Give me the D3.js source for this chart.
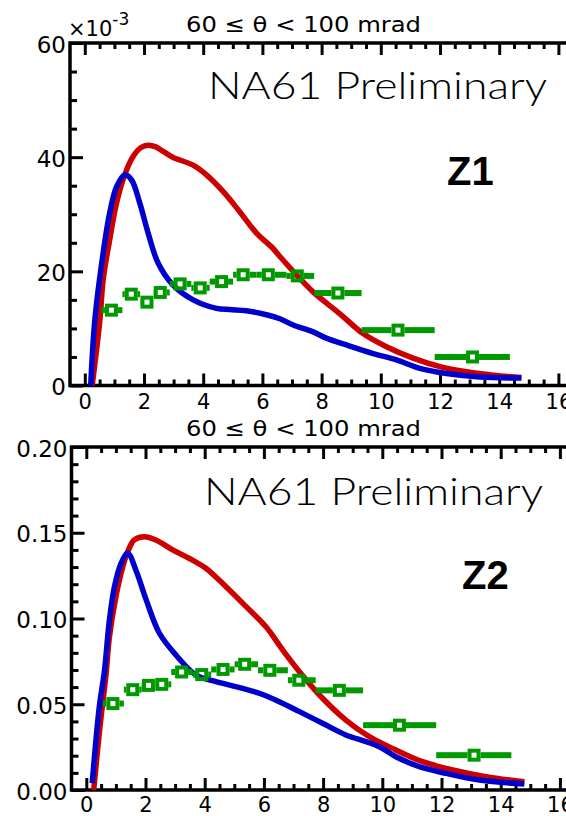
<!DOCTYPE html>
<html>
<head>
<meta charset="utf-8">
<script src="https://cdn.jsdelivr.net/npm/d3@7"></script>
<style>
  html, body { margin: 0; padding: 0; background: #fff; }
  svg { display: block; }
</style>
</head>
<body>
<svg id="chart" width="566" height="816"></svg>
<script>
// Momentum bins (GeV/c) shared by both panels
const binCenter = [0.9, 1.57, 2.1, 2.55, 3.22, 3.9, 4.62, 5.35, 6.2, 7.18, 8.55, 10.58, 13.1];
const binLow    = [0.56, 1.27, 1.87, 2.32, 2.87, 3.6, 4.22, 5.01, 5.8, 6.81, 7.75, 9.35, 11.82];
const binHigh   = [1.27, 1.87, 2.32, 2.87, 3.6, 4.22, 5.01, 5.8, 6.81, 7.75, 9.35, 11.82, 14.36];

// Z1 panel (values in units of 1e-3)
const z1Data = [13.2, 16.0, 14.6, 16.3, 17.8, 17.1, 18.2, 19.4, 19.4, 19.2, 16.2, 9.7, 5.0];
const z1Red = [[0.25,0],[0.51,11.5],[0.62,18.5],[0.84,25.5],[1.07,31.9],[1.35,36.9],[1.63,40.1],[1.9,41.7],
  [2.14,42.1],[2.4,41.8],[2.65,41.0],[3.0,39.9],[3.21,39.5],[3.66,38.6],[4.11,36.9],[4.67,34.0],[5.24,30.4],
  [5.8,26.7],[6.36,24.0],[6.59,22.6],[7.15,19.4],[7.71,16.4],[8.61,12.6],[9.4,9.1],[10.19,6.8],[11.09,4.8],
  [12.0,3.3],[12.9,2.4],[13.8,1.8],[14.75,1.4]];
const z1Blue = [[0.2,0],[0.34,11.5],[0.62,23.2],[0.84,30.2],[1.07,34.8],[1.35,36.9],[1.58,36.0],[1.86,31.9],
  [2.14,26.7],[2.48,21.4],[2.98,17.6],[3.66,15.0],[4.45,13.5],[4.9,13.3],[5.46,13.1],[6.14,12.4],[6.59,11.7],
  [7.04,10.6],[7.71,9.4],[8.16,8.3],[8.84,7.1],[9.74,5.6],[10.53,4.5],[11.32,3.0],[12.22,2.1],[13.34,1.5],[14.75,1.3]];

// Z2 panel
const z2Data = [0.0504, 0.0585, 0.061, 0.0616, 0.0688, 0.0673, 0.0703, 0.0733, 0.0698, 0.064, 0.0581, 0.0378, 0.0203];
const z2Red = [[0.25,0],[0.45,0.035],[0.67,0.068],[0.78,0.089],[1.0,0.1127],[1.23,0.130],[1.4,0.139],[1.62,0.1458],
  [1.96,0.1477],[2.35,0.1458],[2.92,0.140],[3.59,0.134],[4.04,0.1293],[4.72,0.1185],[5.4,0.1069],[6.07,0.0952],
  [6.6,0.0825],[7.2,0.069],[7.98,0.0535],[8.77,0.0408],[9.56,0.0311],[10.46,0.0233],[11.36,0.0165],[12.38,0.0117],
  [13.5,0.0078],[14.8,0.0048]];
const z2Blue = [[0.2,0.004],[0.44,0.0486],[0.61,0.069],[0.78,0.099],[0.95,0.1185],[1.17,0.132],[1.4,0.138],[1.68,0.128],
  [2.02,0.111],[2.47,0.0914],[3.03,0.0787],[3.71,0.067],[4.38,0.0632],[5.28,0.0593],[5.84,0.0564],[6.52,0.0515],
  [7.2,0.0457],[7.98,0.0389],[8.77,0.0321],[9.45,0.0282],[9.9,0.0252],[10.46,0.0194],[11.25,0.0136],[12.15,0.0097],
  [13.28,0.0058],[14.8,0.0035]];

// Axis ticks and labels
const xTicks = [0, 2, 4, 6, 8, 10, 12, 14, 16];
const z1YTicks = [0, 20, 40, 60];
const z1YLabels = ["0", "20", "40", "60"];
const z2YTicks = [0, 0.05, 0.10, 0.15, 0.20];
const z2YLabels = ["0.00", "0.05", "0.10", "0.15", "0.20"];
const titleText = "60 \u2264 \u03b8 < 100 mrad";
const watermark = "NA61 Preliminary";

const RED = "#cc0000", BLUE = "#0000cc", GREEN = "#009a00";
const MARK = 9, MARK_W = 4;   // open square side and outline width
const svg = d3.select("#chart");

function drawPanel(cfg) {
  const x = d3.scaleLinear().domain([-0.5, 16.5]).range([cfg.left, cfg.left + 17 * 29.6]);
  const y = d3.scaleLinear().domain(cfg.yDomain).range([cfg.bottom, cfg.top]);
  const g = svg.append("g");

  const xMinor = d3.range(0, 16.51, 0.5).filter(v => v % 2 !== 0);
  const yMinor = d3.range(cfg.yDomain[0], cfg.yDomain[1] + cfg.minorStep / 2, cfg.minorStep)
    .filter(v => !cfg.yTicks.some(t => Math.abs(t - v) < cfg.minorStep / 10));

  function styleAxis(sel) {
    sel.select(".domain").remove();
    sel.selectAll(".tick line").attr("stroke", "#000").attr("stroke-width", 3);
    sel.selectAll("text").attr("fill", "#000");
  }

  // bottom axis: major with labels, minor without
  g.append("g").attr("transform", `translate(0,${cfg.bottom})`)
    .call(d3.axisBottom(x).tickValues(xTicks).tickSizeInner(-12).tickSizeOuter(0).tickPadding(cfg.xPad))
    .call(styleAxis)
    .selectAll("text").attr("font-family", "DejaVu Sans").attr("font-size", 21);
  g.append("g").attr("transform", `translate(0,${cfg.bottom})`)
    .call(d3.axisBottom(x).tickValues(xMinor).tickSizeInner(-6).tickSizeOuter(0).tickFormat(""))
    .call(styleAxis);
  // top edge ticks
  g.append("g").attr("transform", `translate(0,${cfg.top})`)
    .call(d3.axisTop(x).tickValues(xTicks).tickSizeInner(-12).tickSizeOuter(0).tickFormat(""))
    .call(styleAxis);
  g.append("g").attr("transform", `translate(0,${cfg.top})`)
    .call(d3.axisTop(x).tickValues(xMinor).tickSizeInner(-6).tickSizeOuter(0).tickFormat(""))
    .call(styleAxis);

  // left axis
  g.append("g").attr("transform", `translate(${cfg.left},0)`)
    .call(d3.axisLeft(y).tickValues(cfg.yTicks).tickSizeInner(-13).tickSizeOuter(0).tickPadding(4)
      .tickFormat((d, i) => cfg.yLabels[i]))
    .call(styleAxis)
    .selectAll("text").attr("font-family", "DejaVu Sans").attr("font-size", 23)
      .attr("dy", "0.40em");
  g.append("g").attr("transform", `translate(${cfg.left},0)`)
    .call(d3.axisLeft(y).tickValues(yMinor).tickSizeInner(-7).tickSizeOuter(0).tickFormat(""))
    .call(styleAxis);

  // frame lines
  const right = x.range()[1];
  g.append("path")
    .attr("d", `M${right},${cfg.top}H${cfg.left}V${cfg.bottom}H${right}`)
    .attr("fill", "none").attr("stroke", "#000").attr("stroke-width", 3.5);

  // title
  g.append("text").attr("x", 186).attr("y", cfg.top - 11.5)
    .attr("font-family", "DejaVu Sans").attr("font-size", 22)
    .attr("textLength", 235).attr("lengthAdjust", "spacingAndGlyphs")
    .text(titleText);

  if (cfg.exponent) {
    const t = g.append("text").attr("x", cfg.left - 2).attr("y", cfg.top - 7)
      .attr("font-family", "DejaVu Sans").attr("font-size", 21).text("\u00d710");
    t.append("tspan").attr("dy", -11).attr("font-size", 17).text("-3");
  }

  g.append("text").attr("x", cfg.wmX).attr("y", cfg.top + cfg.wmDy)
    .attr("font-family", "Lato, 'DejaVu Sans', sans-serif").attr("font-weight", 300).attr("font-size", 38)
    .attr("textLength", 339).attr("lengthAdjust", "spacingAndGlyphs")
    .text(watermark);

  g.append("text").attr("x", cfg.tagX).attr("y", cfg.top + 142)
    .attr("font-family", "Liberation Sans, Arial, sans-serif").attr("font-weight", "bold").attr("font-size", 40)
    .text(cfg.tag);

  // model curves
  const line = d3.line().x(d => x(d[0])).y(d => y(d[1])).curve(d3.curveCatmullRom.alpha(0.5));
  g.append("path").datum(cfg.red).attr("d", line)
    .attr("fill", "none").attr("stroke", RED).attr("stroke-width", 5.5)
    .attr("stroke-linejoin", "round");
  g.append("path").datum(cfg.blue).attr("d", line)
    .attr("fill", "none").attr("stroke", BLUE).attr("stroke-width", 5.5)
    .attr("stroke-linejoin", "round");

  // measured points: horizontal bin bars (stopping at the marker) + open squares
  const half = (MARK + MARK_W) / 2;
  const pts = binCenter.map((c, i) => ({ c, lo: binLow[i], hi: binHigh[i], v: cfg.data[i] }));
  const bars = [];
  pts.forEach(d => {
    if (x(d.c) - half > x(d.lo)) bars.push({ a: x(d.lo), b: x(d.c) - half, v: d.v });
    if (x(d.hi) > x(d.c) + half) bars.push({ a: x(d.c) + half, b: x(d.hi), v: d.v });
  });
  g.selectAll(".bar").data(bars).enter().append("line")
    .attr("x1", d => d.a).attr("x2", d => d.b)
    .attr("y1", d => y(d.v)).attr("y2", d => y(d.v))
    .attr("stroke", GREEN).attr("stroke-width", 6);
  g.selectAll(".mk").data(pts).enter().append("rect")
    .attr("x", d => x(d.c) - MARK / 2).attr("y", d => y(d.v) - MARK / 2)
    .attr("width", MARK).attr("height", MARK)
    .attr("fill", "none").attr("stroke", GREEN).attr("stroke-width", MARK_W);
}

drawPanel({
  left: 70, top: 43, bottom: 385.5, yDomain: [0, 60], yTicks: z1YTicks, yLabels: z1YLabels, minorStep: 5,
  data: z1Data, red: z1Red, blue: z1Blue, exponent: true, xPad: 9,
  wmX: 208, wmDy: 55.5, tag: "Z1", tagX: 447
});
drawPanel({
  left: 71.5, top: 447, bottom: 790, yDomain: [0, 0.2], yTicks: z2YTicks, yLabels: z2YLabels, minorStep: 0.01,
  data: z2Data, red: z2Red, blue: z2Blue, exponent: false, xPad: 7,
  wmX: 204, wmDy: 58, tag: "Z2", tagX: 462
});
</script>
</body>
</html>
